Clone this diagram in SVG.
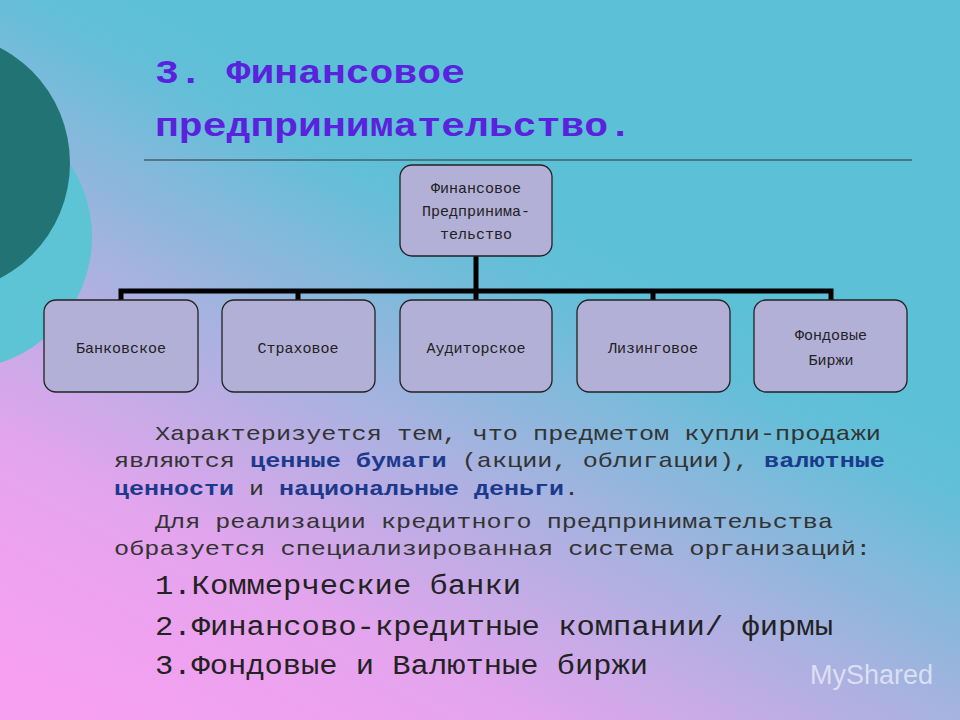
<svg xmlns="http://www.w3.org/2000/svg" width="960" height="720" viewBox="0 0 960 720">
<defs>
<linearGradient id="bg" x1="0.1" y1="1" x2="0.6" y2="0.3">
<stop offset="0" stop-color="#f7a0f2"/>
<stop offset="0.3" stop-color="#e4a4ee"/>
<stop offset="0.6" stop-color="#a8b2e0"/>
<stop offset="0.9" stop-color="#62bfd8"/>
<stop offset="1" stop-color="#5cc0d6"/>
</linearGradient>
<style>
.box{fill:#b3b0d8;stroke:#222;stroke-width:1.3}
.lbl{font-family:"Liberation Mono","Courier New",monospace;font-size:15px;fill:#222;text-anchor:middle}
.con{stroke:#000;stroke-width:5;fill:none}
.body{font-family:"Liberation Mono","Courier New",monospace;font-size:21px;fill:#333}
.b{font-weight:bold;fill:#1c3a8c}
.list{font-family:"Liberation Mono","Courier New",monospace;font-size:27px;fill:#222}
.title{font-family:"Liberation Mono","Courier New",monospace;font-size:34px;font-weight:bold;fill:#5a22dc}
</style>
</defs>
<rect width="960" height="720" fill="url(#bg)"/>
<circle cx="-40" cy="237" r="132" fill="#5cc4d4"/>
<circle cx="-60" cy="163" r="130" fill="#227373"/>
<text class="title" x="155" y="83" textLength="310" lengthAdjust="spacingAndGlyphs">3. Финансовое</text>
<text class="title" x="155" y="136" textLength="477" lengthAdjust="spacingAndGlyphs">предпринимательство.</text>
<line x1="144" y1="160" x2="912" y2="160" stroke="#333" stroke-width="1"/>
<g id="connectors">
<path class="con" d="M476 256V291M121 300V291H831V300M298 291V300M476 291V300M653 291V300"/>
</g>
<g id="root"><rect class="box" x="400" y="165" width="152" height="91" rx="12"/>
<text class="lbl" x="476" y="193">Финансовое</text><text class="lbl" x="476" y="216">Предпринима-</text><text class="lbl" x="476" y="239">тельство</text></g>
<g id="n1"><rect class="box" x="44" y="300" width="154" height="92" rx="12"/><text class="lbl" x="121" y="353">Банковское</text></g>
<g id="n2"><rect class="box" x="222" y="300" width="153" height="92" rx="12"/><text class="lbl" x="298" y="353">Страховое</text></g>
<g id="n3"><rect class="box" x="400" y="300" width="152" height="92" rx="12"/><text class="lbl" x="476" y="353">Аудиторское</text></g>
<g id="n4"><rect class="box" x="577" y="300" width="153" height="92" rx="12"/><text class="lbl" x="653" y="353">Лизинговое</text></g>
<g id="n5"><rect class="box" x="754" y="300" width="153" height="92" rx="12"/><text class="lbl" x="831" y="340">Фондовые</text><text class="lbl" x="831" y="365">Биржи</text></g>
<text class="body" x="155" y="440" textLength="726" lengthAdjust="spacingAndGlyphs">Характеризуется тем, что предметом купли-продажи</text>
<text class="body" x="114" y="467" textLength="771" lengthAdjust="spacingAndGlyphs">являются <tspan class="b">ценные бумаги</tspan> (акции, облигации), <tspan class="b">валютные</tspan></text>
<text class="body" x="114" y="495" textLength="465" lengthAdjust="spacingAndGlyphs"><tspan class="b">ценности</tspan> и <tspan class="b">национальные деньги</tspan>.</text>
<text class="body" x="155" y="528" textLength="678" lengthAdjust="spacingAndGlyphs">Для реализации кредитного предпринимательства</text>
<text class="body" x="114" y="555" textLength="757" lengthAdjust="spacingAndGlyphs">образуется специализированная система организаций:</text>
<text class="list" x="155" y="594" textLength="366" lengthAdjust="spacingAndGlyphs">1.Коммерческие банки</text>
<text class="list" x="155" y="635" textLength="678" lengthAdjust="spacingAndGlyphs">2.Финансово-кредитные компании/ фирмы</text>
<text class="list" x="155" y="674" textLength="493" lengthAdjust="spacingAndGlyphs">3.Фондовые и Валютные биржи</text>
<text x="810" y="684" font-family="Liberation Sans,sans-serif" font-size="27" fill="#ffffff" fill-opacity="0.6">MyShared</text>
</svg>
